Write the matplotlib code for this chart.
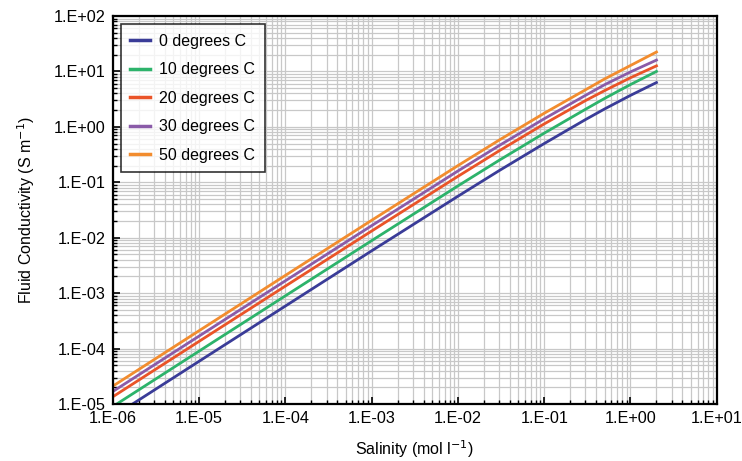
import matplotlib
matplotlib.use("Agg")
import matplotlib.pyplot as plt
from matplotlib.ticker import LogLocator, FixedLocator, NullFormatter

salinity = [1e-6, 1e-5, 1e-4, 1e-3, 1e-2, 3e-2, 1e-1, 3e-1, 5e-1, 1.0, 2.0]
series_labels = ["0 degrees C", "10 degrees C", "20 degrees C", "30 degrees C", "50 degrees C"]
cond_0 = [5.9e-6, 5.9e-5, 5.85e-4, 5.8e-3, 5.6e-2, 0.162, 0.50, 1.35, 2.1, 3.7, 6.3]
cond_10 = [9.0e-6, 9.0e-5, 8.95e-4, 8.85e-3, 8.6e-2, 0.249, 0.77, 2.07, 3.25, 5.8, 10.0]
cond_20 = [1.35e-5, 1.35e-4, 1.34e-3, 1.32e-2, 0.128, 0.369, 1.13, 2.97, 4.5, 7.7, 12.6]
cond_30 = [1.68e-5, 1.68e-4, 1.67e-3, 1.65e-2, 0.160, 0.459, 1.40, 3.69, 5.75, 9.8, 16.0]
cond_50 = [2.1e-5, 2.1e-4, 2.09e-3, 2.06e-2, 0.200, 0.576, 1.76, 4.65, 7.3, 12.8, 22.4]
x_ticks = [1e-6, 1e-5, 1e-4, 1e-3, 1e-2, 1e-1, 1e0, 1e1]
x_tick_labels = ["1.E-06", "1.E-05", "1.E-04", "1.E-03", "1.E-02", "1.E-01", "1.E+00", "1.E+01"]
y_ticks = [1e-5, 1e-4, 1e-3, 1e-2, 1e-1, 1e0, 1e1, 1e2]
y_tick_labels = ["1.E-05", "1.E-04", "1.E-03", "1.E-02", "1.E-01", "1.E+00", "1.E+01", "1.E+02"]
colors = ["#3a3c98", "#2db36b", "#ea5428", "#8a5ba8", "#f28c2e"]

plt.rcParams['font.family'] = ['Liberation Sans', 'DejaVu Sans']

fig = plt.figure(figsize=(7.42, 4.61), dpi=100)
ax = fig.add_axes([0.152, 0.1236, 0.814, 0.8417])

for vals, lab, c in zip([cond_0, cond_10, cond_20, cond_30, cond_50], series_labels, colors):
    ax.plot(salinity, vals, color=c, lw=2.0, label=lab)

ax.set_xscale('log')
ax.set_yscale('log')
ax.set_xlim(1e-6, 1e1)
ax.set_ylim(1e-5, 1e2)
ax.xaxis.set_major_locator(FixedLocator(x_ticks))
ax.yaxis.set_major_locator(FixedLocator(y_ticks))
ax.set_xticklabels(x_tick_labels, fontsize=11.7)
ax.set_yticklabels(y_tick_labels, fontsize=11.7)
ax.xaxis.set_minor_locator(LogLocator(base=10, subs=range(2, 10), numticks=20))
ax.yaxis.set_minor_locator(LogLocator(base=10, subs=range(2, 10), numticks=20))
ax.xaxis.set_minor_formatter(NullFormatter())
ax.yaxis.set_minor_formatter(NullFormatter())

ax.grid(True, which='both', color='#c8c8c8', lw=0.9)
ax.set_axisbelow(True)
ax.tick_params(which='both', direction='in', color='black', top=False, right=False)
ax.tick_params(which='major', length=5, width=1.2, pad=5)
ax.tick_params(which='minor', length=3, width=1.0)
for sp in ax.spines.values():
    sp.set_linewidth(1.6)
    sp.set_color('black')

ax.set_xlabel("Salinity (mol l$^{-1}$)", fontsize=11.5, labelpad=9)
ax.set_ylabel("Fluid Conductivity (S m$^{-1}$)", fontsize=11.5, labelpad=12)

leg = ax.legend(loc='upper left', fontsize=11.5, frameon=True, fancybox=False,
                edgecolor='black', handlelength=1.2, labelspacing=0.85,
                borderpad=0.6, handletextpad=0.6, borderaxespad=0.5)
leg.get_frame().set_linewidth(1.2)
for line in leg.get_lines():
    line.set_linewidth(2.5)

fig.savefig("out.png", dpi=100)
